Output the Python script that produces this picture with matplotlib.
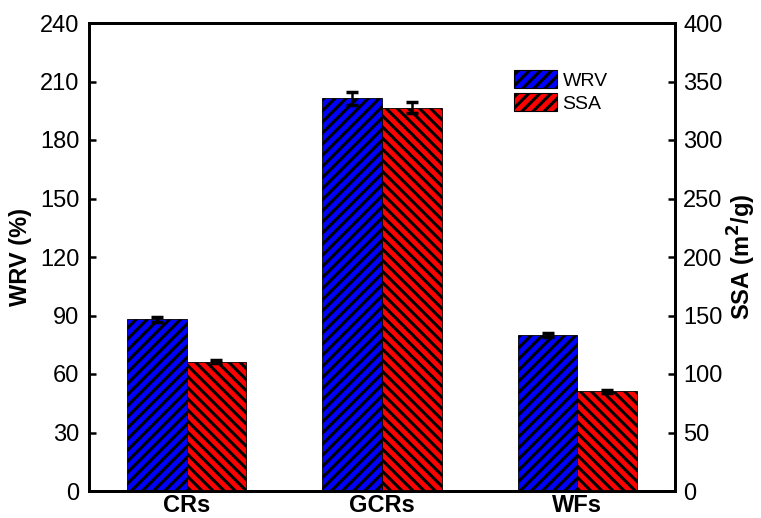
import matplotlib
matplotlib.use("Agg")
import matplotlib.pyplot as plt
from matplotlib.patches import Patch
import numpy as np

categories = ["CRs", "GCRs", "WFs"]
wrv = [88.0, 201.4, 80.2]
wrv_err = [1.2, 3.2, 1.0]
ssa = [110.5, 327.6, 85.2]
ssa_err = [1.5, 4.5, 1.2]

plt.rcParams.update(
    {
        "font.family": ["Liberation Sans", "DejaVu Sans"],
        "font.size": 17,
        "hatch.linewidth": 2.2,
        "axes.linewidth": 2.0,
    }
)

fig = plt.figure(figsize=(7.61, 5.18), dpi=100)
ax = fig.add_axes([89 / 761, 1 - 491 / 518, 586 / 761, 468 / 518])
ax2 = ax.twinx()

x = np.arange(len(categories))
width = 0.305

ax.bar(x - width / 2, wrv, width, color="#0000ff", edgecolor="black",
       linewidth=0.6, hatch="///", zorder=2)
ax.errorbar(x - width / 2, wrv, yerr=wrv_err, fmt="none", ecolor="black",
            elinewidth=1.8, capsize=4, capthick=2.5, zorder=3)

ax2.bar(x + width / 2, ssa, width, color="#ff0000", edgecolor="black",
        linewidth=0.6, hatch="\\\\\\", zorder=2)
ax2.errorbar(x + width / 2, ssa, yerr=ssa_err, fmt="none", ecolor="black",
             elinewidth=1.8, capsize=4, capthick=2.5, zorder=3)

ax.set_xlim(-0.5, 2.5)
ax.set_ylim(0, 240)
ax.set_yticks(np.arange(0, 241, 30))
ax2.set_ylim(0, 400)
ax2.set_yticks(np.arange(0, 401, 50))

ax.set_xticks(x)
ax.set_xticklabels(categories, fontsize=17, fontweight="bold")
ax.tick_params(axis="x", length=0, pad=2.5)
ax.tick_params(axis="y", direction="in", length=5, width=1.8, labelsize=17, pad=7)
ax2.tick_params(axis="y", direction="in", length=5, width=1.8, labelsize=17, pad=6)

ax.set_ylabel("WRV (%)", fontsize=17, fontweight="bold", labelpad=6)
ax2.set_ylabel("SSA (m$\\mathbf{^2}$/g)", fontsize=17, fontweight="bold",
               labelpad=2)

handles = [
    Patch(facecolor="#0000ff", edgecolor="black", linewidth=0.8, hatch="///"),
    Patch(facecolor="#ff0000", edgecolor="black", linewidth=0.8, hatch="///"),
]
ax2.legend(handles, ["WRV", "SSA"], loc="upper left",
           bbox_to_anchor=(0.725, 0.9), frameon=False, fontsize=14,
           handlelength=2.2, handleheight=1.1, handletextpad=0.3,
           labelspacing=0.15, borderpad=0, borderaxespad=0)

fig.savefig("out.png", dpi=100)
